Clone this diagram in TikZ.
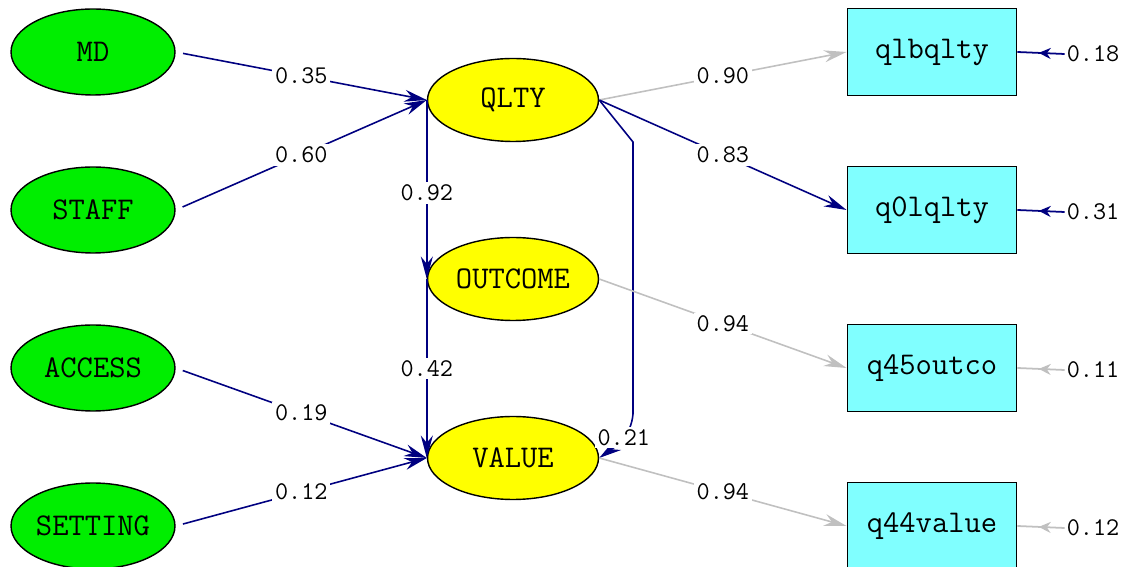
\documentclass[tikz,border=0pt]{standalone}
\usepackage{xcolor}
\usepackage{tikz}
\usetikzlibrary{shapes.geometric,arrows.meta,decorations.markings}

\definecolor{semgreen}{RGB}{0,238,0}
\definecolor{semyellow}{RGB}{255,255,0}
\definecolor{semcyan}{RGB}{128,255,255}
\definecolor{semnavy}{RGB}{0,0,128}
\definecolor{semgray}{RGB}{192,192,192}

\begin{document}
\begin{tikzpicture}[x=0.02cm,y=-0.02cm,
    exo/.style={draw, ellipse, fill=semgreen, line width=0.8pt, inner sep=0pt,
        minimum width=3.28cm, minimum height=1.72cm,
        font=\ttfamily\fontsize{18}{18}\selectfont},
    endo/.style={draw, ellipse, fill=semyellow, line width=0.8pt, inner sep=0pt,
        minimum width=3.42cm, minimum height=1.66cm,
        font=\ttfamily\fontsize{18}{18}\selectfont},
    obs/.style={draw, rectangle, fill=semcyan, line width=1.1pt, inner sep=0pt,
        minimum width=3.38cm, minimum height=1.74cm,
        font=\ttfamily\fontsize{18}{18}\selectfont},
    coef/.style={fill=white, inner sep=1.5pt, font=\ttfamily\fontsize{14.5}{14.5}\selectfont},
    errlbl/.style={inner sep=1pt, font=\ttfamily\fontsize{14.5}{14.5}\selectfont},
    navyarr/.style={draw=semnavy, line width=0.9pt, -{Stealth[length=4.5mm,width=2.4mm]}},
    grayarr/.style={draw=semgray, line width=0.9pt, -{Stealth[length=4.5mm,width=2.4mm]}},
    errarr/.style={line width=1pt, postaction={decorate},
        decoration={markings, mark=at position 0.55 with {\arrow{Stealth[length=2.4mm,width=2.2mm]}}}}]

    \useasboundingbox (0,0) rectangle (1130,567);

    % Define nodes
    \node[exo] (MD) at (93,52) {MD};
    \node[exo] (STAFF) at (93,210) {STAFF};
    \node[exo] (ACCESS) at (93,368) {ACCESS};
    \node[exo] (SETTING) at (93,526) {SETTING};

    \node[endo] (QLTY) at (513,100) {QLTY};
    \node[endo] (OUTCOME) at (513,279) {OUTCOME};
    \node[endo] (VALUE) at (513,458) {VALUE};

    \node[obs] (qlbqlty) at (932,52) {qlbqlty};
    \node[obs] (qOlqlty) at (932,210) {q0lqlty};
    \node[obs] (qoutco) at (932,368) {q45outco};
    \node[obs] (qvalue) at (932,526) {q44value};

    \node[errlbl] (e1) at (1093,54) {0.18};
    \node[errlbl] (e2) at (1093,212) {0.31};
    \node[errlbl] (e3) at (1093,370) {0.11};
    \node[errlbl] (e4) at (1093,528) {0.12};

    \coordinate (bendtop) at (633,142);
    \coordinate (bendbot) at (633,414);

    % Draw edges
    \draw[navyarr, shorten <=1.5mm] (MD.east) -- node[coef] {0.35} (QLTY.west);
    \draw[navyarr, shorten <=1.5mm] (STAFF.east) -- node[coef] {0.60} (QLTY.west);
    \draw[navyarr, shorten <=1.5mm] (ACCESS.east) -- node[coef] {0.19} (VALUE.west);
    \draw[navyarr, shorten <=1.5mm] (SETTING.east) -- node[coef] {0.12} (VALUE.west);

    \draw[navyarr] (QLTY.west) -- node[coef, pos=0.52] {0.92} (OUTCOME.west);
    \draw[navyarr] (OUTCOME.west) -- node[coef] {0.42} (VALUE.west);
    \draw[navyarr] (QLTY.east) -- (bendtop) -- (bendbot)
        to[out=-95, in=35] node[coef, pos=0.45] {0.21} (VALUE.east);

    \draw[grayarr] (QLTY.east) -- node[coef] {0.90} (qlbqlty.west);
    \draw[navyarr] (QLTY.east) -- node[coef] {0.83} (qOlqlty.west);
    \draw[grayarr] (OUTCOME.east) -- node[coef] {0.94} (qoutco.west);
    \draw[grayarr] (VALUE.east) -- node[coef] {0.94} (qvalue.west);

    % error terms
    \draw[errarr, semnavy] (e1.west) -- (qlbqlty.east);
    \draw[errarr, semnavy] (e2.west) -- (qOlqlty.east);
    \draw[errarr, semgray] (e3.west) -- (qoutco.east);
    \draw[errarr, semgray] (e4.west) -- (qvalue.east);
\end{tikzpicture}
\end{document}
